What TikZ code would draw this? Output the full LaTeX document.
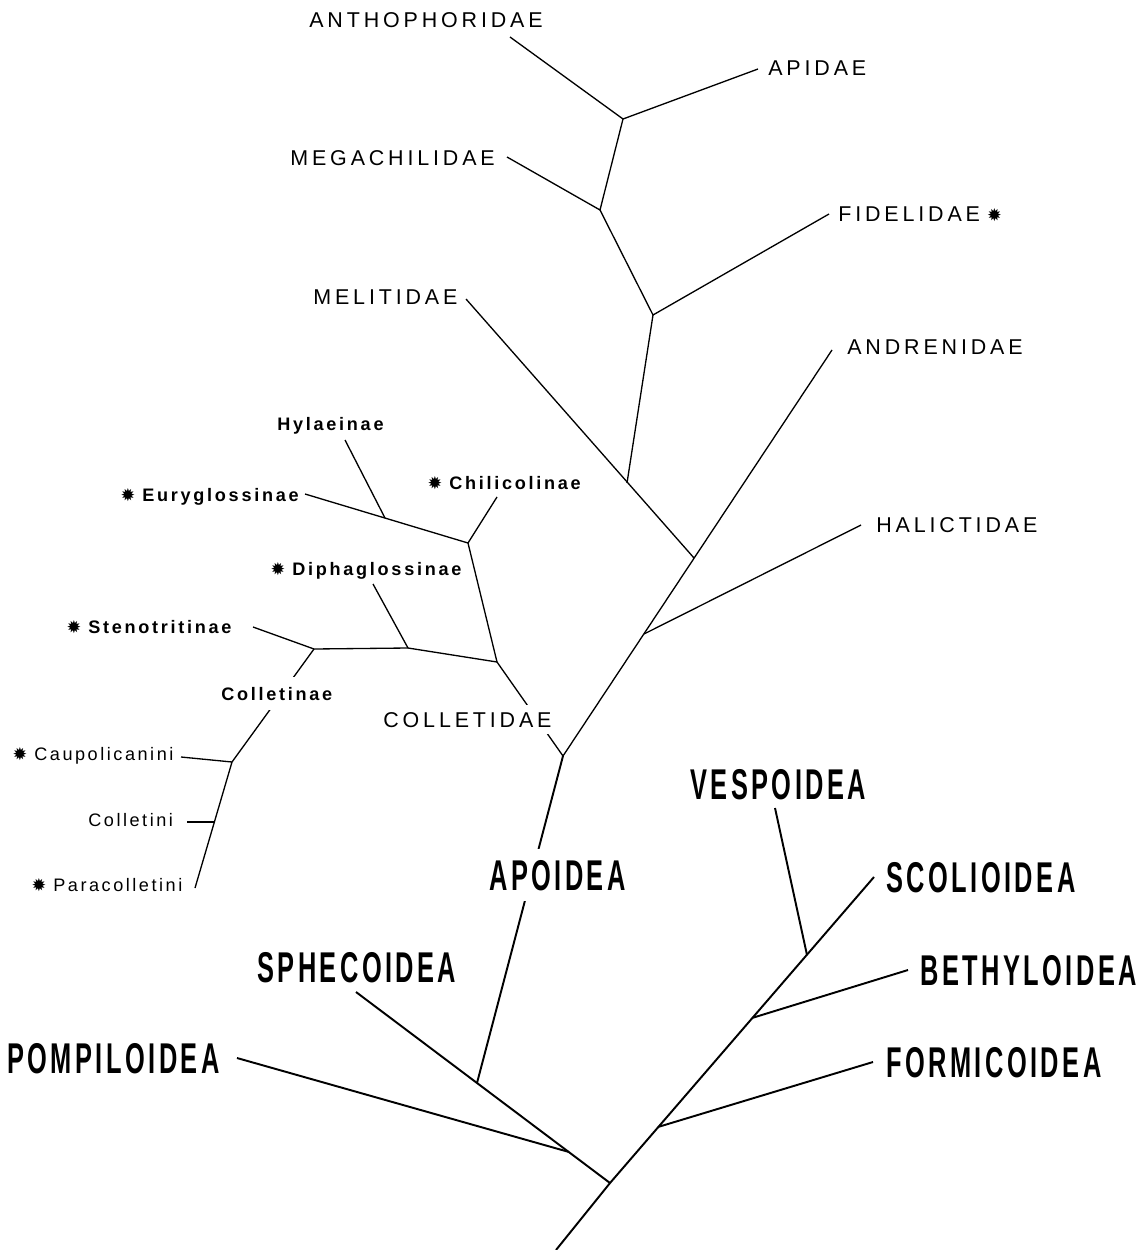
\documentclass[tikz,border=0pt]{standalone}
\usepackage{fontspec}
\setmainfont{Liberation Sans}
\newfontfamily\famfont{Liberation Sans}[LetterSpace=18]
\newfontfamily\subfamfont{Liberation Sans}[LetterSpace=15]
\newfontfamily\tribefont{Liberation Sans}[LetterSpace=14]
\newfontfamily\cladefont{Liberation Sans}[FakeStretch=0.59,LetterSpace=8]
\newfontfamily\starfont{DejaVu Sans}
\newcommand\fstar{{\starfont\fontsize{10}{10}\selectfont ✹}}
\newcommand\starred[1]{\llap{\fstar\hspace{4pt}}#1}

\begin{document}
\begin{tikzpicture}[x=0.02cm,y=-0.02cm,
    branch/.style={line width=0.75pt},
    stem/.style={line width=1.1pt},
    fam/.style={anchor=base west,inner sep=0pt,fill=white,font=\famfont\fontsize{12.2}{14}\selectfont},
    subfam/.style={anchor=base west,inner sep=0pt,fill=white,font=\subfamfont\bfseries\fontsize{10.3}{12}\selectfont},
    tribe/.style={anchor=base west,inner sep=0pt,fill=white,font=\tribefont\fontsize{10.3}{12}\selectfont},
    clade/.style={anchor=base west,inner sep=0pt,fill=white,font=\cladefont\bfseries\fontsize{24.5}{28}\selectfont}]
    \useasboundingbox (0,0) rectangle (1145,1250);

    % bee families
    \coordinate (anth) at (510,37);
    \coordinate (apid) at (758,69);
    \coordinate (mega) at (507,157);
    \coordinate (fide) at (829,214);
    \coordinate (meli) at (466,299);
    \coordinate (andr) at (832,350);
    \coordinate (hali) at (861,525);
    \coordinate (a1) at (623,119);
    \coordinate (a2) at (600,210);
    \coordinate (a3) at (653,315);
    \coordinate (a4) at (627,483);
    \coordinate (a5) at (694,558);
    \coordinate (a6) at (644,634);
    \coordinate (a7) at (563,756);

    % colletid subfamilies and tribes
    \coordinate (hyla) at (345,440);
    \coordinate (eury) at (305,494);
    \coordinate (chil) at (497,497);
    \coordinate (diph) at (373,584);
    \coordinate (sten) at (253,627);
    \coordinate (caup) at (181,757);
    \coordinate (coll) at (187,822);
    \coordinate (para) at (195,888);
    \coordinate (c1) at (497,662);
    \coordinate (c2) at (468,543);
    \coordinate (c3) at (385,518);
    \coordinate (c4) at (408,648);
    \coordinate (c5) at (314,649);
    \coordinate (c6) at (232,762);
    \coordinate (c7) at (214,822);

    % superfamilies
    \coordinate (vesp) at (775,808);
    \coordinate (scol) at (874,877);
    \coordinate (beth) at (908,970);
    \coordinate (form) at (873,1062);
    \coordinate (sphe) at (356,992);
    \coordinate (pomp) at (237,1058);
    \coordinate (root) at (556,1250);
    \coordinate (h1) at (807,955);
    \coordinate (h2) at (752,1018);
    \coordinate (h3) at (658,1127);
    \coordinate (h4) at (610,1183);
    \coordinate (h5) at (477,1083);
    \coordinate (h6) at (569,1152);

    \draw[branch] (anth) -- (a1) -- (apid);
    \draw[branch] (a1) -- (a2) -- (mega);
    \draw[branch] (a2) -- (a3) -- (fide);
    \draw[branch] (a3) -- (a4);
    \draw[branch] (meli) -- (a5);
    \draw[branch] (andr) -- (a7);
    \draw[branch] (hali) -- (a6);
    \draw[branch] (c1) -- (a7);

    \draw[branch] (hyla) -- (c3);
    \draw[branch] (eury) -- (c2) -- (chil);
    \draw[branch] (c2) -- (c1);
    \draw[branch] (diph) -- (c4);
    \draw[branch] (sten) -- (c5) -- (c4) -- (c1);
    \draw[branch] (c5) -- (c6);
    \draw[branch] (caup) -- (c6) -- (para);
    \draw[branch] (coll) -- (c7);

    \draw[stem] (a7) -- (h5);
    \draw[stem] (scol) -- (h4) -- (root);
    \draw[stem] (vesp) -- (h1);
    \draw[stem] (beth) -- (h2);
    \draw[stem] (form) -- (h3);
    \draw[stem] (sphe) -- (h4);
    \draw[stem] (pomp) -- (h6);

    % labels
    \node[fam] (lAnth) at (309,28) {ANTHOPHORIDAE};
    \node[fam] (lApid) at (768,76) {APIDAE};
    \node[fam] (lMega) at (290,166) {MEGACHILIDAE};
    \node[fam] (lFide) at (838,221) {FIDELIDAE\hspace{4pt}\fstar};
    \node[fam] (lMeli) at (313,304) {MELITIDAE};
    \node[fam] (lAndr) at (847,354) {ANDRENIDAE};
    \node[fam] (lHali) at (876,532) {HALICTIDAE};
    \node[fam,inner ysep=4pt] (lColl) at (383,727) {COLLETIDAE};

    \node[subfam] (lHyla) at (277,430) {Hylaeinae};
    \node[subfam] (lEury) at (142,501) {\starred{Euryglossinae}};
    \node[subfam] (lChil) at (449,489) {\starred{Chilicolinae}};
    \node[subfam] (lDiph) at (292,575) {\starred{Diphaglossinae}};
    \node[subfam] (lSten) at (88,633) {\starred{Stenotritinae}};
    \node[subfam,inner ysep=5.5pt] (lColt) at (221,700) {Colletinae};

    \node[tribe] (lCaup) at (34,760) {\starred{Caupolicanini}};
    \node[tribe] (lColn) at (88,826) {Colletini};
    \node[tribe] (lPara) at (53,891) {\starred{Paracolletini}};

    \node[clade] (lVesp) at (690,799) {VESPOIDEA};
    \node[clade,inner ysep=6pt] (lApoi) at (489,890) {APOIDEA};
    \node[clade] (lScol) at (886,892) {SCOLIOIDEA};
    \node[clade] (lSphe) at (257,982) {SPHECOIDEA};
    \node[clade] (lBeth) at (920,985) {BETHYLOIDEA};
    \node[clade] (lPomp) at (7,1073) {POMPILOIDEA};
    \node[clade] (lForm) at (886,1077) {FORMICOIDEA};
\end{tikzpicture}
\end{document}
